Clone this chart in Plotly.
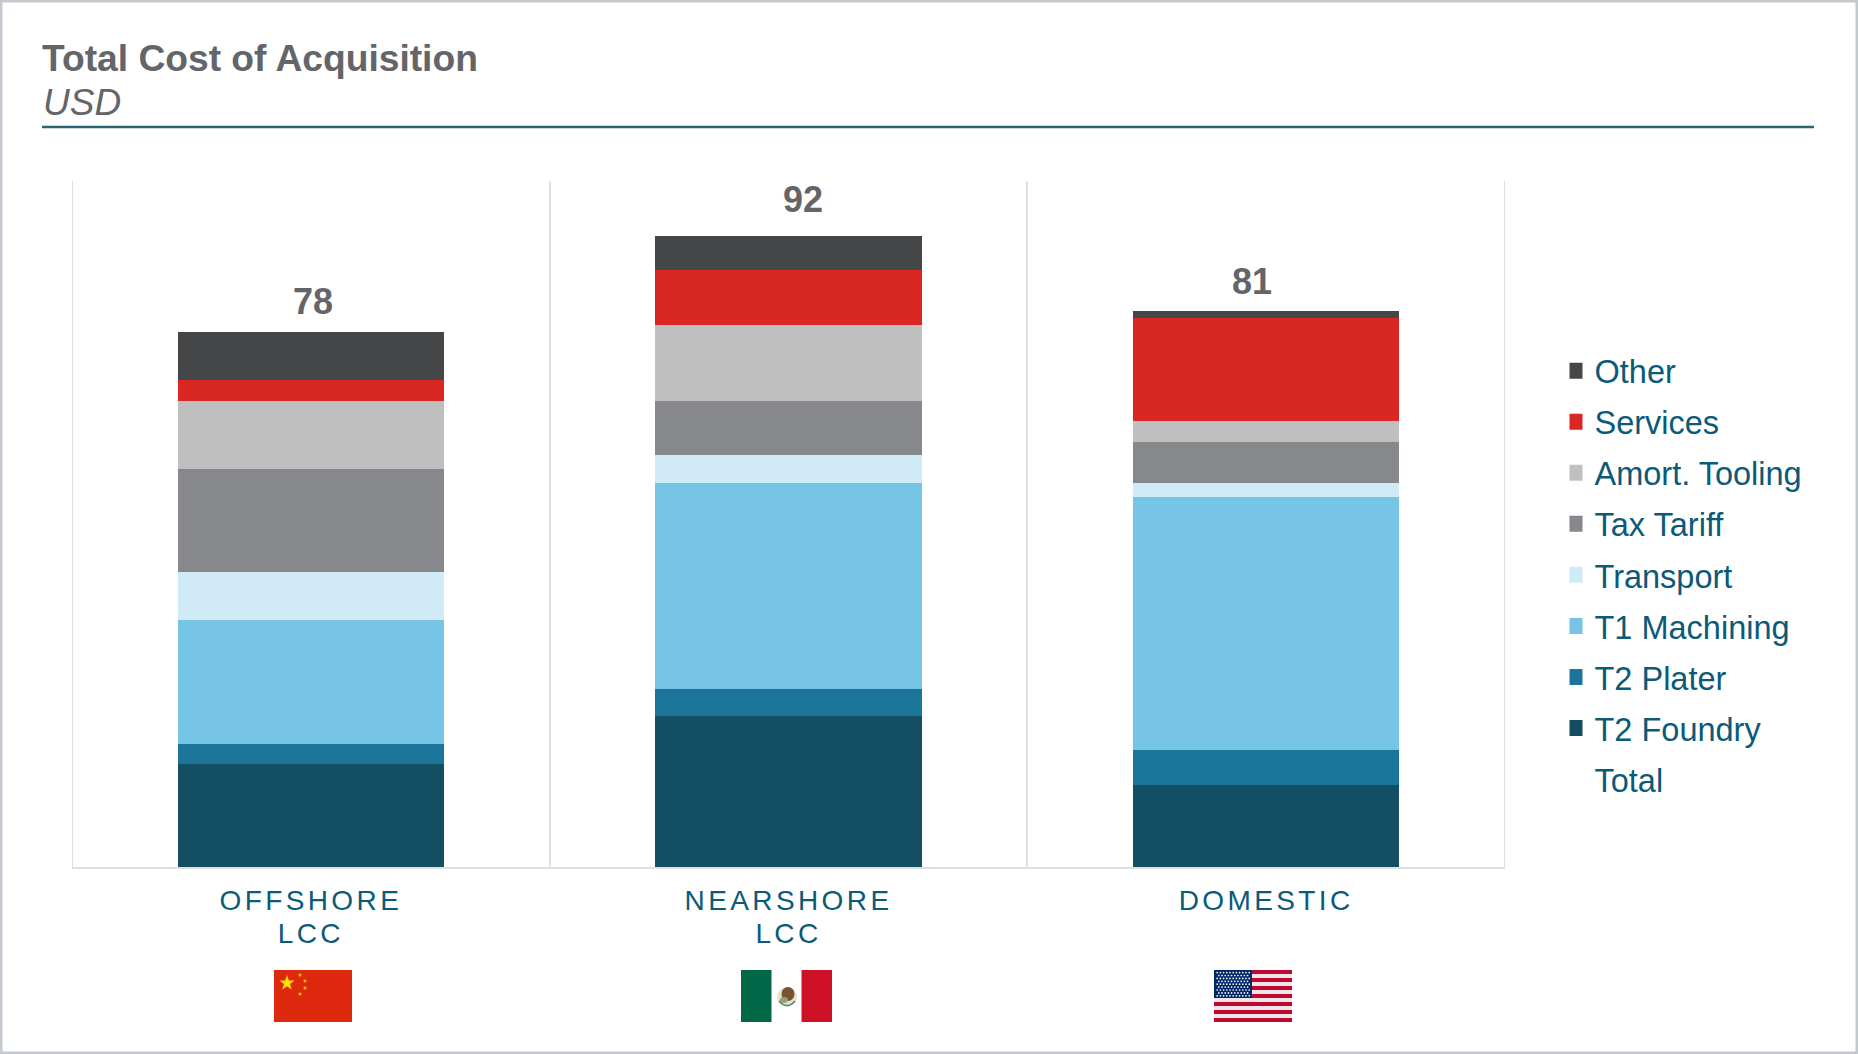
import base64
import math
import plotly.graph_objects as go

W, H = 1858, 1054
PLOT_L, PLOT_R, PLOT_T, PLOT_B = 72, 1505, 181, 867

categories = ["OFFSHORE<br>LCC", "NEARSHORE<br>LCC", "DOMESTIC"]
series_names = ["T2 Foundry", "T2 Plater", "T1 Machining", "Transport",
                "Tax Tariff", "Amort. Tooling", "Services", "Other"]
t2_foundry = [15, 22, 12]
t2_plater = [3, 4, 5]
t1_machining = [18, 30, 37]
transport = [7, 4, 2]
tax_tariff = [15, 8, 6]
amort_tooling = [10, 11, 3]
services = [3, 8, 15]
other = [7, 5, 1]
totals = [78, 92, 81]
series_values = [t2_foundry, t2_plater, t1_machining, transport,
                 tax_tariff, amort_tooling, services, other]
series_colors = ["#134e63", "#1b7499", "#76c5e7", "#d0ebf7",
                 "#86888c", "#bfbfbf", "#d92723", "#454648"]

TEXT_TEAL = "#0b5a78"
TEXT_GREY = "#636569"
GRID = "#dfe0e1"
FONT = "Liberation Sans, Arial, sans-serif"


def px(x):
    return (x - PLOT_L) / (PLOT_R - PLOT_L)


def py(y):
    return (PLOT_B - y) / (PLOT_B - PLOT_T)


def svg_uri(body, w, h):
    svg = f'<svg xmlns="http://www.w3.org/2000/svg" width="{w}" height="{h}" viewBox="0 0 {w} {h}">{body}</svg>'
    return "data:image/svg+xml;base64," + base64.b64encode(svg.encode()).decode()


def star(cx, cy, r, fill):
    pts = []
    for i in range(10):
        rad = r if i % 2 == 0 else r * 0.4
        ang = -math.pi / 2 + i * math.pi / 5
        pts.append(f"{cx + rad * math.cos(ang):.2f},{cy + rad * math.sin(ang):.2f}")
    return f'<polygon points="{" ".join(pts)}" fill="{fill}"/>'


china = '<rect width="78" height="52" fill="#de290f"/>' + star(13, 13, 8, "#ffe000")
for sx, sy in [(26, 5), (31, 11), (31, 18), (26, 24)]:
    china += star(sx, sy, 2.2, "#ffd000")

mexico = ('<rect width="91" height="52" fill="#ffffff"/>'
          '<rect width="30.5" height="52" fill="#006847"/>'
          '<rect x="60.5" width="30.5" height="52" fill="#ce1126"/>'
          '<ellipse cx="46" cy="27" rx="10" ry="10" fill="#e8e3cf"/>'
          '<ellipse cx="47" cy="24" rx="6.5" ry="7" fill="#7d5230"/>'
          '<ellipse cx="43" cy="30" rx="4" ry="3" fill="#8fa37c"/>'
          '<path d="M38 31 Q46 40 54 31" stroke="#5d8a6b" stroke-width="1.6" fill="none"/>')

usa = '<rect width="78" height="52" fill="#f2e6ea"/>'
for i in range(7):
    usa += f'<rect y="{i * 8}" width="78" height="4" fill="#bf0a30"/>'
usa += '<rect width="38" height="28" fill="#002868"/>'
for r in range(9):
    for c in range(11 if r % 2 == 0 else 10):
        usa += f'<circle cx="{3.2 + c * 3.2 + (0 if r % 2 == 0 else 1.6):.1f}" cy="{2.6 + r * 2.9:.1f}" r="0.85" fill="#ffffff"/>'

flags = [(china, 78, 274), (mexico, 91, 741), (usa, 78, 1214)]
images = [dict(source=svg_uri(b, w, 52), xref="paper", yref="paper",
               x=px(x), y=py(970), sizex=w / (PLOT_R - PLOT_L), sizey=52 / (PLOT_B - PLOT_T),
               xanchor="left", yanchor="top", sizing="stretch", layer="above")
          for b, w, x in flags]

fig = go.Figure()

# legend entries, top to bottom, each in its own group
for name, color in reversed(list(zip(series_names, series_colors))):
    fig.add_trace(go.Scatter(x=[None], y=[None], mode="markers", name=name, legendgroup=name,
                             marker=dict(symbol="square", size=16, color=color, line=dict(width=0)),
                             hoverinfo="skip"))
fig.add_trace(go.Scatter(x=categories, y=totals, mode="lines", name="Total", legendgroup="Total",
                         line=dict(width=0, color="rgba(0,0,0,0)"), hoverinfo="y"))

for name, values, color in zip(series_names, series_values, series_colors):
    fig.add_trace(go.Bar(x=categories, y=values, name=name, legendgroup=name, showlegend=False,
                         marker=dict(color=color, line=dict(width=0))))

label_shift_x = [2, 14, -14]
label_shift_y = [30, 36, 30]
annotations = [dict(x=c, y=t, text=str(t), showarrow=False, xref="x", yref="y",
                    xshift=sx, yshift=sy, font=dict(family=FONT, size=36, color=TEXT_GREY, weight="bold"))
               for c, t, sx, sy in zip(categories, totals, label_shift_x, label_shift_y)]
annotations.append(dict(x=px(41), y=py(102), xref="paper", yref="paper", text="<i>USD</i>",
                        showarrow=False, xanchor="left", yanchor="middle",
                        font=dict(family=FONT, size=37, color=TEXT_GREY)))

shapes = [
    dict(type="line", xref="paper", yref="paper", x0=px(42), x1=px(1814), y0=py(127), y1=py(127),
         line=dict(color="#2c6474", width=2.5)),
    dict(type="rect", xref="paper", yref="paper", x0=px(1), x1=px(W - 1), y0=py(1), y1=py(H - 1),
         line=dict(color="#c4c8cf", width=3), layer="below"),
]
for edge in (-0.5, 2.5):
    shapes.append(dict(type="line", xref="x", yref="paper", x0=edge, x1=edge, y0=0, y1=1,
                       line=dict(color=GRID, width=2), layer="below"))

fig.update_layout(
    width=W, height=H, autosize=False,
    margin=dict(l=PLOT_L, r=W - PLOT_R, t=PLOT_T, b=H - PLOT_B, autoexpand=False, pad=0),
    paper_bgcolor="white", plot_bgcolor="white",
    barmode="stack", bargap=0.442,
    font=dict(family=FONT, color=TEXT_TEAL),
    title=dict(text="Total Cost of Acquisition", x=42 / W, xanchor="left",
               y=1 - 58 / H, yanchor="middle",
               font=dict(family=FONT, size=37.2, color=TEXT_GREY, weight="bold")),
    xaxis=dict(type="category", categoryorder="array", categoryarray=categories,
               range=[-0.5, 2.5], tickson="boundaries", showgrid=True, gridcolor=GRID, gridwidth=2,
               showline=True, linecolor=GRID, linewidth=2, ticks="", zeroline=False,
               ticklabelstandoff=7,
               tickfont=dict(family=FONT, size=28, color=TEXT_TEAL), tickangle=0, fixedrange=True),
    yaxis=dict(range=[0, 100], visible=False, fixedrange=True),
    legend=dict(xref="container", yref="container", x=1569.5 / W, y=1 - 343 / H,
                xanchor="left", yanchor="top", traceorder="grouped", tracegroupgap=5.8,
                indentation=-15, itemclick=False, itemdoubleclick=False,
                font=dict(family=FONT, size=32.5, color=TEXT_TEAL), bgcolor="rgba(0,0,0,0)"),
    annotations=annotations, shapes=shapes, images=images, showlegend=True,
)

post = """
document.body.style.margin = '0';
document.querySelectorAll('.xtick text').forEach(function (t) {
  t.style.letterSpacing = '3.4px';
  t.querySelectorAll('tspan.line').forEach(function (s, i) {
    if (i > 0) { s.setAttribute('dy', '1.18em'); }
  });
});
"""
fig.write_html("out.html", post_script=post, config=dict(displayModeBar=False))
